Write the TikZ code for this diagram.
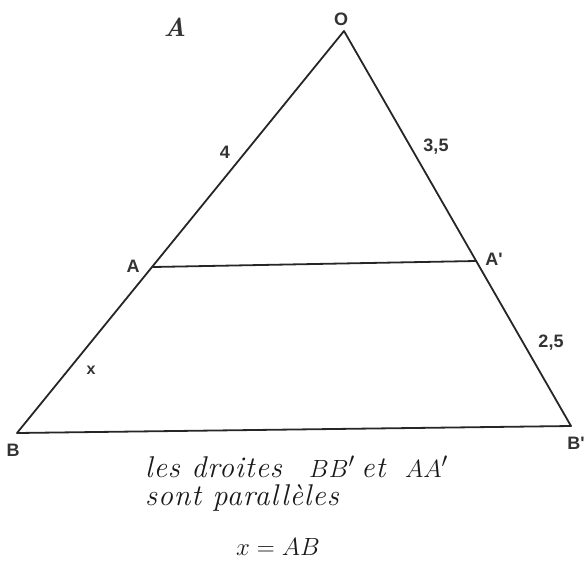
\documentclass[tikz,border=0pt]{standalone}
\usepackage{fontspec}
\newfontfamily\lblfont{Liberation Sans}
\newfontfamily\txtfont[LetterSpace=3]{Latin Modern Roman}
\begin{document}
\begin{tikzpicture}[x=1pt,y=-1pt,
  edge/.style={line width=1.8pt,draw=black!85,line cap=round,line join=round},
  lbl/.style={font=\lblfont\bfseries\fontsize{18}{20}\selectfont,text=black!80,inner sep=0pt},
  txt/.style={font=\txtfont\itshape\fontsize{30}{34}\selectfont,text=black!90,inner sep=0pt,anchor=base west},
  mth/.style={font=\fontsize{30}{34}\selectfont,text=black!90,inner sep=0pt,anchor=base west}]
\useasboundingbox (0,0) rectangle (587,576);
\coordinate (O) at (344,31);
\coordinate (A) at (153,267);
\coordinate (A2) at (476,261);
\coordinate (B) at (17,433);
\coordinate (B2) at (571,426);
\draw[edge] (B) -- (O) -- (B2) -- cycle;
\draw[edge] (A) -- (A2);
\node[lbl] (lO) at (341,19) {O};
\node[lbl] (lA) at (133,266) {A};
\node[lbl] (lA2) at (494,259) {A'};
\node[lbl] (lB) at (13,450) {B};
\node[lbl] (lB2) at (576,443) {B'};
\node[lbl] (l4) at (225,152) {4};
\node[lbl] (l35) at (436,147) {3,5};
\node[lbl] (l25) at (551,343) {2,5};
\node[lbl,font=\lblfont\bfseries\fontsize{16}{18}\selectfont] (lx) at (91,370) {x};
\node[inner sep=0pt,font=\bfseries\itshape\fontsize{26}{30}\selectfont,text=black!80] (title) at (175,27) {A};
\node[txt] (t1a) at (145,477) {les droites};
\node[mth] (t1b) at (309,477) {$BB'$};
\node[txt] (t1c) at (361,477) {et};
\node[mth] (t1d) at (405,477) {$AA'$};
\node[txt] (t2) at (145,505) {sont parallèles};
\node[mth] (t3) at (236,555) {$x = AB$};
\end{tikzpicture}
\end{document}
